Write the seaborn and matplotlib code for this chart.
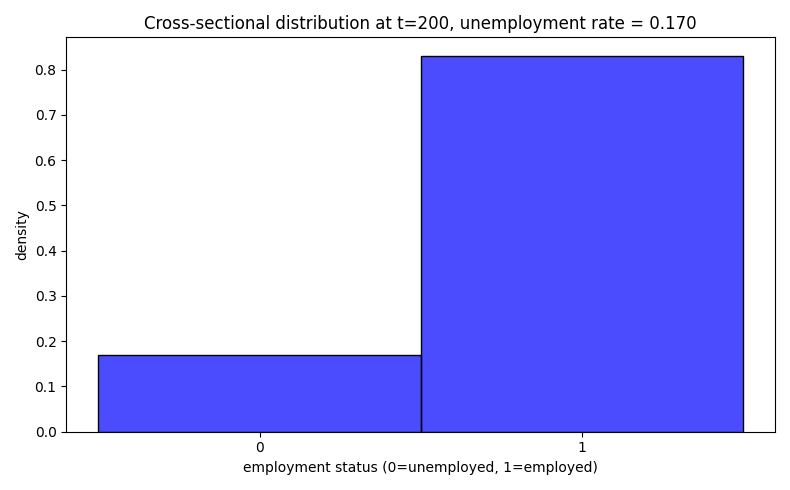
import matplotlib
matplotlib.use("Agg")
import matplotlib.pyplot as plt
import seaborn as sns

status = [0, 1]
shares = [0.17, 0.83]
bin_edges = [-0.5, 0.5, 1.5]

fig, ax = plt.subplots(figsize=(7.9, 4.9), dpi=100)
sns.histplot(x=status, weights=shares, bins=bin_edges, stat="density",
             color="blue", alpha=0.7, edgecolor="black", ax=ax)
ax.set_xticks(status)
ax.set_xlabel("employment status (0=unemployed, 1=employed)")
ax.set_ylabel("density")
ax.set_title("Cross-sectional distribution at t=200, unemployment rate = 0.170")
fig.tight_layout()
fig.savefig("out.png")
